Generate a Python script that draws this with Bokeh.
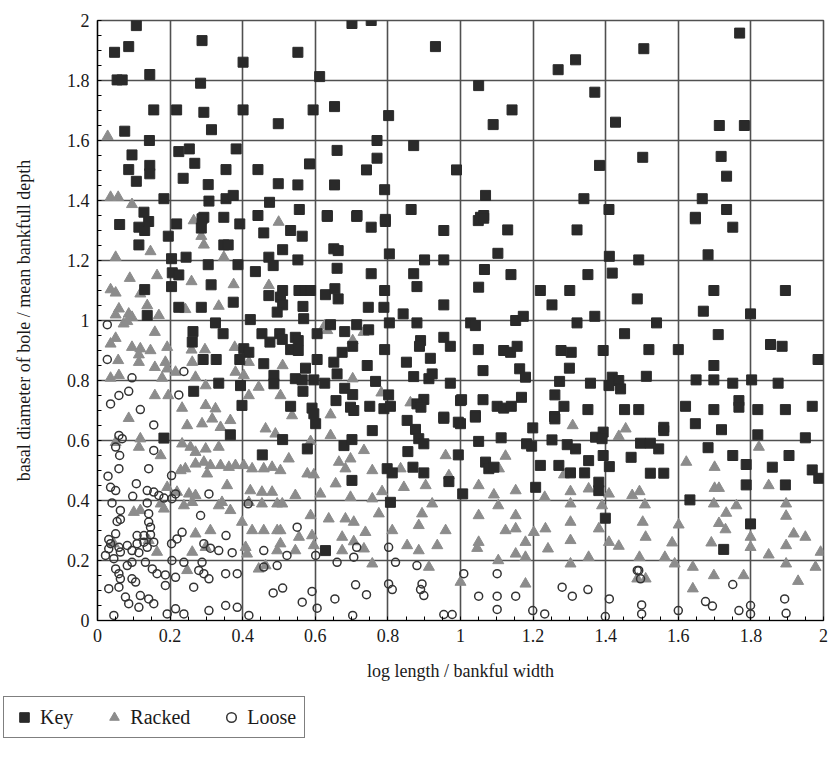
from bokeh.plotting import figure
from bokeh.layouts import column, row
from bokeh.models import Legend, LegendItem, FixedTicker, Range1d, NumeralTickFormatter
from bokeh.embed import file_html
from bokeh.resources import INLINE

tick_values = [0, 0.2, 0.4, 0.6, 0.8, 1, 1.2, 1.4, 1.6, 1.8, 2]
minor_values = [i * 0.05 for i in range(41)]

key_xy = [
    (0.107,1.983),(0.288,1.933),(0.047,1.894),(0.086,1.913),(0.401,1.861),(0.144,1.82),(0.054,1.802),(0.068,1.802),
    (0.284,1.791),(0.155,1.702),(0.218,1.702),(0.293,1.694),(0.401,1.702),(0.498,1.656),(0.314,1.636),(0.075,1.631),
    (0.143,1.6),(0.224,1.563),(0.253,1.572),(0.382,1.572),(0.095,1.552),(0.268,1.524),(0.086,1.503),(0.144,1.517),
    (0.144,1.489),(0.354,1.503),(0.442,1.503),(0.107,1.464),(0.236,1.474),(0.305,1.453),(0.498,1.456),(0.183,1.406),
    (0.307,1.398),(0.354,1.406),(0.374,1.417),(0.474,1.394),(0.128,1.361),(0.293,1.344),(0.348,1.344),(0.442,1.35),
    (0.701,1.99),(0.754,2.0),(0.552,1.894),(0.931,1.913),(0.612,1.813),(0.594,1.702),(0.653,1.713),(0.802,1.683),
    (0.770,1.6),(0.871,1.583),(0.660,1.567),(0.770,1.541),(0.584,1.522),(0.741,1.502),(0.989,1.502),(0.552,1.452),
    (0.653,1.452),(0.791,1.436),(0.556,1.37),(0.633,1.35),(0.715,1.35),(0.864,1.37),(0.793,1.337),
    (1.269,1.836),(1.317,1.869),(1.050,1.783),(1.370,1.761),(1.142,1.702),(1.090,1.653),(1.427,1.661),(1.505,1.906),
    (1.383,1.517),(1.502,1.544),(1.069,1.417),(1.340,1.406),(1.409,1.37),(1.055,1.344),(1.064,1.35),
    (1.769,1.958),(1.713,1.65),(1.782,1.65),(1.718,1.547),(1.733,1.481),(1.666,1.406),(1.733,1.37),(1.647,1.344),
    (0.061,1.32),(0.114,1.311),(0.130,1.3),(0.141,1.33),(0.195,1.281),(0.114,1.252),(0.218,1.322),(0.288,1.339),
    (0.286,1.308),(0.392,1.322),(0.348,1.252),(0.360,1.252),(0.458,1.292),(0.244,1.211),(0.204,1.206),(0.472,1.211),
    (0.484,1.183),(0.305,1.186),(0.387,1.186),(0.435,1.163),(0.206,1.159),(0.224,1.152),(0.204,1.113),(0.313,1.119),
    (0.472,1.083),(0.130,1.103),(0.374,1.061),(0.504,1.078),(0.224,1.044),(0.286,1.044),(0.137,1.017),(0.421,1.003),
    (0.325,0.992),(0.263,0.963),(0.346,0.956),(0.453,0.956),(0.475,0.928),(0.502,0.956),(0.261,0.928),(0.403,0.906),
    (0.417,0.894),(0.291,0.87),(0.327,0.87),(0.392,0.87),(0.458,0.856),(0.486,0.817),(0.486,0.789),(0.334,0.791),
    (0.394,0.783),(0.265,0.764),(0.398,0.717),
    (0.532,1.3),(0.564,1.281),(0.633,1.347),(0.714,1.347),(0.754,1.311),(0.793,1.33),(0.954,1.3),(0.510,1.236),
    (0.651,1.239),(0.663,1.233),(0.804,1.222),(0.552,1.202),(0.901,1.202),(0.954,1.202),(0.660,1.174),(0.754,1.156),
    (0.871,1.156),(0.880,1.113),(0.510,1.1),(0.555,1.1),(0.573,1.1),(0.587,1.1),(0.654,1.106),(0.628,1.086),
    (0.663,1.072),(0.791,1.1),(0.510,1.052),(0.495,1.028),(0.566,1.047),(0.746,1.044),(0.789,1.044),(0.954,1.052),
    (0.842,1.022),(0.568,1.006),(0.642,0.986),(0.714,0.986),(0.804,0.992),(0.880,0.992),(0.605,0.956),(0.681,0.963),
    (0.747,0.969),(0.509,0.937),(0.545,0.944),(0.553,0.933),(0.890,0.933),(0.887,0.914),(0.954,0.944),(0.972,0.914),
    (0.703,0.914),(0.532,0.903),(0.553,0.9),(0.674,0.894),(0.791,0.903),(0.605,0.87),(0.651,0.861),(0.851,0.861),
    (0.917,0.874),(0.743,0.85),(0.573,0.841),(0.660,0.822),(0.871,0.813),(0.913,0.806),(0.922,0.822),(0.545,0.806),
    (0.564,0.802),(0.596,0.802),(0.626,0.791),(0.766,0.797),(0.972,0.791),(0.681,0.774),(0.703,0.753),(0.802,0.752),
    (0.566,0.764),(0.657,0.733),(0.899,0.737),(0.880,0.722),(0.532,0.714),(0.591,0.708),(0.596,0.689),(0.697,0.711),
    (0.706,0.7),(0.750,0.714),(0.789,0.706),(0.807,0.714),(0.891,0.711),(0.954,0.678),(1.0,0.733),
    (1.049,1.333),(1.064,1.341),(1.130,1.302),(1.321,1.302),(1.103,1.224),(1.410,1.214),(1.491,1.202),(1.066,1.17),
    (1.139,1.153),(1.351,1.153),(1.418,1.158),(1.050,1.111),(1.220,1.1),(1.301,1.1),(1.252,1.052),(1.487,1.072),
    (1.152,1.0),(1.173,1.014),(1.028,0.992),(1.041,0.983),(1.321,0.992),(1.370,1.014),(1.452,0.956),(1.049,0.903),
    (1.119,0.9),(1.138,0.894),(1.156,0.914),(1.277,0.9),(1.305,0.894),(1.393,0.9),(1.062,0.833),(1.163,0.839),
    (1.179,0.811),(1.300,0.841),(1.418,0.811),(1.436,0.8),(1.409,0.783),(1.441,0.772),(1.273,0.797),(1.358,0.791),
    (1.003,0.736),(1.062,0.736),(1.101,0.714),(1.119,0.708),(1.140,0.714),(1.168,0.744),(1.260,0.752),(1.285,0.714),
    (1.351,0.703),(1.452,0.703),(1.491,0.703),(1.041,0.683),(1.259,0.68),
    (1.647,1.339),(1.750,1.311),(1.682,1.219),(1.698,1.1),(1.895,1.1),(1.669,1.031),(1.799,1.022),(1.540,0.992),
    (1.710,0.953),(1.854,0.92),(1.886,0.914),(1.519,0.903),(1.600,0.903),(1.985,0.87),(1.698,0.85),(1.512,0.814),
    (1.649,0.802),(1.698,0.802),(1.750,0.791),(1.802,0.802),(1.875,0.791),(1.620,0.714),(1.698,0.703),(1.767,0.733),
    (1.767,0.711),(1.819,0.703),(1.895,0.703),(1.969,0.714),
    (1.560,0.644),(1.560,0.633),(1.647,0.656),(1.719,0.636),(1.819,0.619),(1.950,0.609),(1.496,0.591),(1.523,0.591),
    (1.546,0.572),(1.682,0.576),(1.750,0.55),(1.787,0.52),(1.905,0.55),(1.859,0.511),(1.969,0.502),(1.987,0.474),
    (1.523,0.491),(1.560,0.491),(1.787,0.452),(1.895,0.452),(1.632,0.402),(1.799,0.322),(1.725,0.237),
    (1.041,0.678),(1.0,0.656),(1.260,0.672),(1.199,0.642),(1.393,0.628),(1.050,0.597),(1.112,0.609),(1.182,0.589),
    (1.196,0.581),(1.252,0.602),(1.294,0.586),(1.317,0.572),(1.372,0.611),(1.390,0.606),(0.994,0.552),(1.069,0.528),
    (1.078,0.506),(1.092,0.511),(1.220,0.517),(1.271,0.517),(1.303,0.492),(1.353,0.533),(1.342,0.492),(1.393,0.55),
    (1.410,0.513),(1.470,0.544),(1.207,0.444),(1.381,0.461),(1.381,0.433),(1.006,0.422),(1.399,0.341),
    (0.601,0.656),(0.757,0.633),(0.510,0.603),(0.578,0.572),(0.679,0.583),(0.701,0.603),(0.853,0.667),(0.876,0.637),
    (0.885,0.606),(0.899,0.589),(0.954,0.674),(0.994,0.661),(0.855,0.563),(0.869,0.511),(0.899,0.492),(0.798,0.506),
    (0.812,0.492),(0.701,0.467),(0.968,0.463),(0.807,0.394),(0.628,0.233),
    (0.366,0.619),(0.454,0.552),(0.183,0.608),
]

racked_xy = [
    (0.028,1.614),(0.036,1.411),(0.057,1.411),(0.095,1.387),
    (0.146,1.23),(0.050,1.211),(0.286,1.281),(0.293,1.252),(0.348,1.211),(0.265,1.333),(0.089,1.141),(0.164,1.15),
    (0.259,1.13),(0.375,1.12),(0.472,1.117),(0.118,1.089),(0.036,1.103),(0.050,1.092),(0.334,1.048),(0.242,1.037),
    (0.137,1.05),(0.059,1.039),(0.050,1.019),(0.086,1.022),(0.095,1.011),(0.169,1.017),(0.072,0.989),(0.082,0.997),
    (0.158,0.961),(0.050,0.941),(0.036,0.922),(0.095,0.911),(0.118,0.906),(0.146,0.9),(0.192,0.911),(0.114,0.886),
    (0.259,0.902),(0.296,0.903),(0.378,0.911),(0.057,0.867),(0.158,0.844),(0.114,0.861),(0.187,0.861),(0.261,0.861),
    (0.417,0.861),(0.192,0.839),(0.215,0.828),(0.380,0.828),(0.403,0.817),(0.036,0.808),(0.059,0.817),(0.178,0.808),
    (0.270,0.811),(0.298,0.783),(0.444,0.778),(0.158,0.75),(0.195,0.75),(0.233,0.708),(0.298,0.717),(0.325,0.706),
    (0.417,0.75),
    (0.626,0.983),(0.633,0.967),(0.733,0.961),(0.703,0.933),(0.499,1.328),(0.510,0.85),(0.703,0.806),(0.782,0.759),
    (0.504,0.75),(0.862,0.726),(0.536,0.683),(0.642,0.686),
    (0.086,0.674),(0.247,0.65),(0.288,0.656),(0.316,0.672),(0.339,0.644),(0.366,0.667),(0.463,0.639),(0.490,0.622),
    (0.114,0.578),(0.118,0.606),(0.050,0.594),(0.233,0.589),(0.256,0.578),(0.270,0.561),(0.298,0.572),(0.293,0.528),
    (0.334,0.578),(0.174,0.55),(0.270,0.522),(0.311,0.517),(0.339,0.517),(0.362,0.511),(0.380,0.517),(0.403,0.517),
    (0.229,0.5),(0.242,0.506),(0.302,0.489),(0.426,0.506),(0.458,0.506),(0.481,0.511),(0.357,0.45),(0.421,0.433),
    (0.453,0.428),(0.481,0.428),(0.192,0.444),(0.219,0.428),(0.252,0.422),(0.270,0.417),(0.343,0.394),(0.366,0.367),
    (0.334,0.383),(0.417,0.394),(0.453,0.389),(0.495,0.389),(0.1,0.361),(0.118,0.367),(0.174,0.389),(0.183,0.372),
    (0.238,0.383),(0.261,0.394),(0.398,0.328),(0.270,0.289),(0.311,0.3),(0.426,0.3),(0.458,0.3),(0.495,0.3),
    (0.045,0.256),(0.141,0.267),(0.164,0.228),(0.261,0.228),(0.298,0.244),(0.408,0.244),(0.412,0.222),(0.495,0.233),
    (0.247,0.167),(0.444,0.172),(0.463,0.183),
    (0.642,0.617),(0.587,0.597),(0.734,0.567),(0.527,0.539),(0.665,0.528),(0.697,0.539),(0.683,0.506),(0.578,0.489),
    (0.596,0.486),(0.504,0.5),(0.757,0.5),(0.835,0.506),(0.959,0.55),(0.968,0.483),(0.656,0.456),(0.784,0.43),
    (0.844,0.444),(0.904,0.45),(0.545,0.417),(0.614,0.422),(0.697,0.411),(0.757,0.406),(0.509,0.389),(0.922,0.389),
    (0.587,0.35),(0.637,0.339),(0.683,0.339),(0.706,0.328),(0.775,0.356),(0.894,0.356),(0.504,0.3),(0.504,0.256),
    (0.555,0.278),(0.591,0.283),(0.596,0.25),(0.674,0.278),(0.738,0.294),(0.812,0.3),(0.885,0.317),(0.959,0.3),
    (0.706,0.263),(0.734,0.239),(0.853,0.25),(0.936,0.25),(0.545,0.233),(0.674,0.233),(0.885,0.233),(0.757,0.189),
    (0.913,0.178),
    (1.309,0.65),(1.455,0.639),(1.436,0.614),(1.124,0.548),(1.106,0.506),(1.285,0.486),(1.050,0.45),(1.092,0.419),
    (1.152,0.433),(1.232,0.411),(1.303,0.43),(1.303,0.389),(1.353,0.439),(1.409,0.422),(1.390,0.383),(1.473,0.417),
    (1.104,0.383),(1.050,0.35),(1.152,0.35),(1.152,0.306),(1.124,0.3),(1.234,0.306),(1.303,0.328),(1.303,0.267),
    (1.202,0.294),(1.179,0.261),(1.050,0.261),(1.046,0.241),(1.241,0.239),(1.152,0.222),(1.179,0.211),(1.104,0.2),
    (1.303,0.189),(1.353,0.211),(1.381,0.306),(1.409,0.261),(1.436,0.248),(1.179,0.122),(1.0,0.128),(1.487,0.139),
    (1.822,0.578),(1.622,0.528),(1.700,0.511),(1.700,0.441),(1.712,0.441),(1.849,0.45),(1.493,0.43),(1.508,0.386),
    (1.698,0.389),(1.760,0.383),(1.732,0.358),(1.897,0.389),(1.897,0.348),(1.502,0.328),(1.601,0.319),(1.712,0.324),
    (1.730,0.303),(1.799,0.278),(1.799,0.244),(1.510,0.278),(1.583,0.259),(1.691,0.259),(1.918,0.289),(1.950,0.278),
    (1.897,0.25),(1.849,0.219),(1.992,0.228),(1.493,0.211),(1.563,0.211),(1.590,0.189),(1.640,0.178),(1.698,0.15),
    (1.780,0.15),(1.897,0.189),(1.978,0.178),(1.510,0.139),(1.640,0.106),(1.930,0.131),
]

loose_xy = [
    (0.027,0.986),(0.027,0.87),(0.095,0.809),(0.059,0.75),(0.086,0.764),(0.036,0.722),(0.118,0.703),(0.238,0.83),
    (0.224,0.752),
    (0.155,0.652),(0.059,0.617),(0.068,0.606),(0.050,0.578),(0.155,0.567),(0.061,0.55),(0.059,0.506),(0.141,0.506),
    (0.029,0.481),(0.204,0.483),(0.107,0.456),(0.036,0.444),(0.050,0.433),(0.137,0.433),(0.155,0.428),(0.169,0.417),
    (0.097,0.414),(0.183,0.408),(0.205,0.406),(0.215,0.422),(0.307,0.422),(0.040,0.392),(0.137,0.392),(0.063,0.367),
    (0.141,0.356),(0.284,0.35),(0.054,0.33),(0.063,0.337),(0.141,0.328),(0.146,0.311),(0.050,0.289),(0.109,0.283),
    (0.128,0.283),(0.146,0.286),(0.233,0.294),(0.354,0.283),(0.031,0.27),(0.036,0.256),(0.031,0.239),(0.059,0.244),
    (0.082,0.25),(0.109,0.256),(0.128,0.261),(0.155,0.261),(0.137,0.244),(0.204,0.256),(0.219,0.272),(0.293,0.256),
    (0.311,0.241),(0.334,0.233),(0.371,0.226),(0.458,0.233),(0.022,0.217),(0.045,0.206),(0.063,0.228),(0.095,0.233),
    (0.114,0.226),(0.082,0.183),(0.095,0.194),(0.132,0.194),(0.050,0.172),(0.059,0.156),(0.063,0.139),(0.151,0.172),
    (0.164,0.156),(0.205,0.2),(0.238,0.194),(0.215,0.144),(0.187,0.152),(0.288,0.194),(0.279,0.167),(0.293,0.156),
    (0.307,0.139),(0.353,0.156),(0.385,0.156),(0.095,0.139),(0.105,0.128),(0.031,0.106),(0.059,0.111),(0.187,0.117),
    (0.265,0.111),(0.118,0.083),(0.141,0.072),(0.077,0.078),(0.086,0.056),(0.114,0.044),(0.155,0.056),(0.215,0.039),
    (0.238,0.022),(0.192,0.022),(0.307,0.033),(0.353,0.05),(0.385,0.044),(0.484,0.092),(0.458,0.178),(0.417,0.017),
    (0.045,0.017),(0.415,0.389),
    (0.550,0.311),(0.522,0.217),(0.495,0.183),(0.601,0.217),(0.660,0.194),(0.706,0.211),(0.714,0.244),(0.802,0.244),
    (0.821,0.194),(0.880,0.183),(0.510,0.108),(0.591,0.097),(0.564,0.061),(0.605,0.041),(0.654,0.072),(0.711,0.119),
    (0.741,0.086),(0.802,0.122),(0.812,0.103),(0.894,0.122),(0.890,0.103),(0.899,0.083),(0.703,0.017),(0.954,0.02),
    (0.977,0.02),
    (1.009,0.156),(1.101,0.156),(1.050,0.081),(1.101,0.081),(1.152,0.081),(1.101,0.037),(1.280,0.111),(1.308,0.081),
    (1.351,0.103),(1.410,0.072),(1.199,0.033),(1.232,0.022),(1.399,0.013),(1.487,0.167),
    (1.491,0.167),(1.496,0.139),(1.750,0.12),(1.675,0.063),(1.694,0.048),(1.767,0.033),(1.799,0.05),(1.799,0.022),
    (1.499,0.052),(1.499,0.022),(1.600,0.033),(1.893,0.072),(1.897,0.024),
]

key_x = [a for a, _ in key_xy]
key_y = [b for _, b in key_xy]
racked_x = [a for a, _ in racked_xy]
racked_y = [b for _, b in racked_xy]
loose_x = [a for a, _ in loose_xy]
loose_y = [b for _, b in loose_xy]

legend_labels = ["Key", "Racked", "Loose"]

SERIF = "Liberation Serif"
GRID = "#505050"
KEY_C = "#2a2a2a"
RACK_C = "#8c8c8c"
LOOSE_C = "#333333"

p = figure(width=830, height=690, x_range=Range1d(0, 2), y_range=Range1d(0, 2),
           output_backend="svg", toolbar_location=None,
           min_border_left=97, min_border_right=7, min_border_top=20, min_border_bottom=70,
           background_fill_color="white", border_fill_color="white")

p.scatter(racked_x, racked_y, marker="triangle", size=11, fill_color=RACK_C, line_color=RACK_C)
p.scatter(loose_x, loose_y, marker="circle", size=8, fill_color=None, line_color=LOOSE_C, line_width=1.5)
p.scatter(key_x, key_y, marker="square", size=10, fill_color=KEY_C, line_color=KEY_C)

ticker = FixedTicker(ticks=tick_values, minor_ticks=minor_values)
for ax in (p.xaxis[0], p.yaxis[0]):
    ax.ticker = ticker
    ax.formatter = NumeralTickFormatter(format="0.[0]")
    ax.axis_line_color = "black"
    ax.axis_line_width = 1.2
    ax.major_tick_in = 0
    ax.major_tick_out = 0
    ax.minor_tick_in = 4
    ax.minor_tick_out = 0
    ax.minor_tick_line_color = "black"
    ax.major_label_text_font = SERIF
    ax.major_label_text_font_size = "18px"
    ax.major_label_text_color = "#1a1a1a"
    ax.axis_label_text_font = SERIF
    ax.axis_label_text_font_size = "18px"
    ax.axis_label_text_font_style = "normal"
    ax.axis_label_text_color = "#1a1a1a"

p.xaxis.axis_label = "log length / bankful width"
p.yaxis.axis_label = "basal diameter of bole / mean bankfull depth"
p.xaxis.major_label_standoff = 8
p.xaxis.axis_label_standoff = 16
p.yaxis.major_label_standoff = 8
p.yaxis.axis_label_standoff = 30

p.xgrid.ticker = ticker
p.ygrid.ticker = ticker
p.grid.grid_line_color = GRID
p.grid.grid_line_width = 1.6
p.outline_line_color = GRID
p.outline_line_width = 1.6

# legend strip below the chart (its sample glyphs reuse one real point, which lies outside this strip's ranges)
lg = figure(width=830, height=71, x_range=Range1d(0, 1), y_range=Range1d(-2, -1),
            output_backend="svg", toolbar_location=None,
            x_axis_location=None, y_axis_location=None, min_border=0,
            background_fill_color="white", border_fill_color="white")
lg.grid.visible = False
lg.outline_line_color = None
g_key = lg.scatter(key_x[:1], key_y[:1], marker="square", size=10, fill_color=KEY_C, line_color=KEY_C)
g_rack = lg.scatter(racked_x[:1], racked_y[:1], marker="triangle", size=11, fill_color=RACK_C, line_color=RACK_C)
g_loose = lg.scatter(loose_x[:1], loose_y[:1], marker="circle", size=8, fill_color=None, line_color=LOOSE_C, line_width=1.5)

legend = Legend(items=[LegendItem(label=legend_labels[0], renderers=[g_key]),
                       LegendItem(label=legend_labels[1], renderers=[g_rack]),
                       LegendItem(label=legend_labels[2], renderers=[g_loose])],
                orientation="horizontal", location=(3, 23), margin=0,
                padding=8, spacing=29, glyph_width=24, glyph_height=24, label_standoff=4,
                label_text_font=SERIF, label_text_font_size="20px", label_text_color="#1a1a1a",
                border_line_color="black", border_line_width=1,
                background_fill_color="white", background_fill_alpha=1)
lg.add_layout(legend)

layout = column(p, row(lg), spacing=0)
open("out.html", "w").write(file_html(layout, INLINE))
